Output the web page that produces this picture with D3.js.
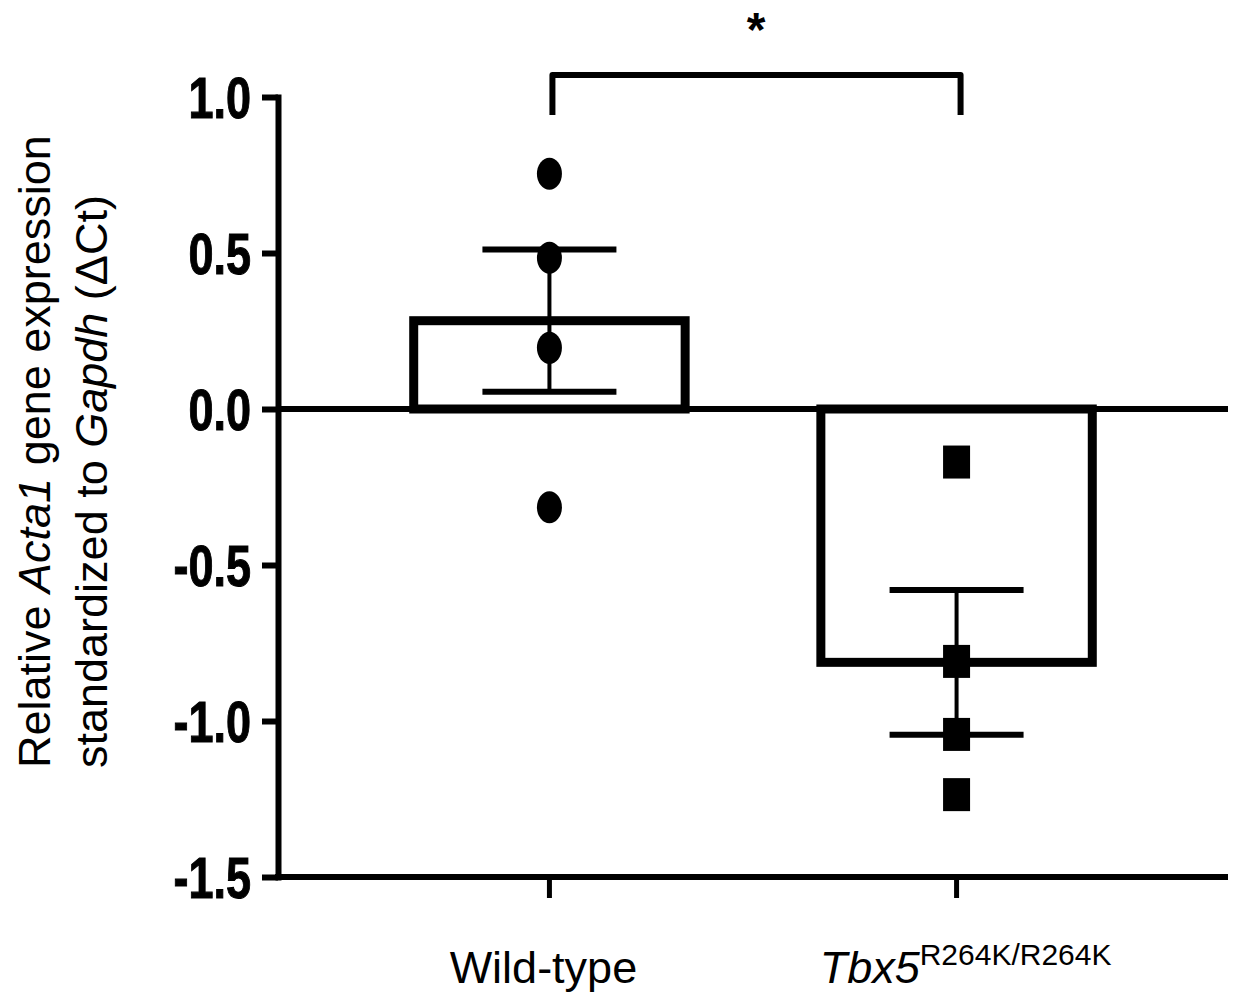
<!DOCTYPE html>
<html>
<head>
<meta charset="utf-8">
<script src="https://cdn.jsdelivr.net/npm/d3@7"></script>
<style>
  html, body { margin: 0; padding: 0; background: #fff; }
  svg { display: block; }
  text { font-family: "Liberation Sans", Arial, sans-serif; fill: #000; }
</style>
</head>
<body>
<svg id="chart" width="1234" height="995"></svg>
<script>
// ---- data ----
const categories = ["Wild-type", "Tbx5"];
const means = [0.283, -0.812];
const sems = [0.228, 0.232];
const wildTypePoints = [0.754, 0.485, 0.196, -0.315];
const mutantPoints = [-0.170, -0.809, -1.043, -1.236];
const yTickValues = [1.0, 0.5, 0.0, -0.5, -1.0, -1.5];
const yTickLabels = ["1.0", "0.5", "0.0", "-0.5", "-1.0", "-1.5"];
const significance = "*";

// ---- layout ----
const svg = d3.select("#chart");
const plotLeft = 278, plotRight = 1228, plotTop = 97, plotBottom = 877;

const y = d3.scaleLinear().domain([-1.5, 1.0]).range([plotBottom, plotTop]);
const x = d3.scaleBand().domain(categories).range([plotLeft, plotRight])
  .paddingInner(1 / 3).paddingOuter(1 / 3);
const cx = d => x(d) + x.bandwidth() / 2;

// y axis
const yAxis = svg.append("g").attr("transform", `translate(${plotLeft},0)`)
  .call(d3.axisLeft(y).tickValues(yTickValues).tickSize(16).tickSizeOuter(0)
    .tickPadding(11).tickFormat((d, i) => yTickLabels[i]));
yAxis.select(".domain").attr("stroke", "#000").attr("stroke-width", 6)
  .attr("stroke-linecap", "square");
yAxis.selectAll(".tick line").attr("stroke", "#000").attr("stroke-width", 6);
yAxis.selectAll(".tick text")
  .attr("font-size", 45).attr("font-weight", "bold")
  .attr("font-family", "'Liberation Sans', Arial, sans-serif")
  .attr("fill", "#000")
  .attr("stroke", "#000").attr("stroke-width", 0.8)
  .attr("dy", "0.36em")
  .attr("transform", "scale(1,1.27)");

// x axis (bottom)
const xAxis = svg.append("g").attr("transform", `translate(0,${plotBottom})`)
  .call(d3.axisBottom(x).tickSize(21).tickSizeOuter(0).tickFormat(""));
xAxis.select(".domain").attr("stroke", "#000").attr("stroke-width", 6)
  .attr("d", `M${plotLeft - 3},0H${plotRight}`);
xAxis.selectAll(".tick line").attr("stroke", "#000").attr("stroke-width", 5);

// zero line
svg.append("line")
  .attr("x1", plotLeft).attr("x2", plotRight)
  .attr("y1", y(0)).attr("y2", y(0))
  .attr("stroke", "#000").attr("stroke-width", 6);

// bars
svg.selectAll("rect.bar").data(categories).enter().append("rect")
  .attr("class", "bar")
  .attr("x", d => x(d))
  .attr("width", x.bandwidth())
  .attr("y", (d, i) => Math.min(y(0), y(means[i])))
  .attr("height", (d, i) => Math.abs(y(0) - y(means[i])))
  .attr("fill", "none").attr("stroke", "#000").attr("stroke-width", 9);

// error bars
const capHalf = 67;
categories.forEach((c, i) => {
  const g = svg.append("g");
  g.append("line").attr("x1", cx(c)).attr("x2", cx(c))
    .attr("y1", y(means[i] + sems[i])).attr("y2", y(means[i] - sems[i]))
    .attr("stroke", "#000").attr("stroke-width", 4);
  [means[i] + sems[i], means[i] - sems[i]].forEach(v => {
    g.append("line").attr("x1", cx(c) - capHalf).attr("x2", cx(c) + capHalf)
      .attr("y1", y(v)).attr("y2", y(v))
      .attr("stroke", "#000").attr("stroke-width", 6);
  });
});

// points
svg.selectAll("ellipse.wt").data(wildTypePoints).enter().append("ellipse")
  .attr("class", "wt")
  .attr("cx", cx(categories[0])).attr("cy", d => y(d))
  .attr("rx", 12.5).attr("ry", 16).attr("fill", "#000");
svg.selectAll("rect.mut").data(mutantPoints).enter().append("rect")
  .attr("class", "mut")
  .attr("x", cx(categories[1]) - 13.5).attr("y", d => y(d) - 16.5)
  .attr("width", 27).attr("height", 33).attr("fill", "#000");

// significance bracket
const bTop = 75, bEnd = 115;
svg.append("path")
  .attr("d", `M${cx(categories[0]) + 3},${bEnd}V${bTop}H${cx(categories[1]) + 4}V${bEnd}`)
  .attr("fill", "none").attr("stroke", "#000").attr("stroke-width", 6)
  .attr("stroke-linejoin", "round");
svg.append("text")
  .attr("x", (cx(categories[0]) + cx(categories[1])) / 2 + 3).attr("y", 46)
  .attr("text-anchor", "middle").attr("font-size", 48).attr("font-weight", "bold")
  .text(significance);

// category labels
svg.append("text").attr("x", cx(categories[0]) - 6).attr("y", 983)
  .attr("text-anchor", "middle").attr("font-size", 45).text(categories[0]);
const t2 = svg.append("text").attr("x", cx(categories[1]) + 9).attr("y", 983)
  .attr("text-anchor", "middle").attr("font-size", 45);
t2.append("tspan").attr("font-style", "italic").text("Tbx5");
t2.append("tspan").attr("font-size", 30).attr("dy", -18).text("R264K/R264K");

// y-axis title
const yt = svg.append("text")
  .attr("transform", "translate(50,768) rotate(-90)")
  .attr("font-size", 45).attr("text-anchor", "start");
yt.append("tspan").text("Relative ");
yt.append("tspan").attr("font-style", "italic").text("Acta1");
yt.append("tspan").text(" gene expression");
const yt2 = svg.append("text")
  .attr("transform", "translate(107,768) rotate(-90)")
  .attr("font-size", 45).attr("text-anchor", "start");
yt2.append("tspan").text("standardized to ");
yt2.append("tspan").attr("font-style", "italic").text("Gapdh");
yt2.append("tspan").text(" (\u0394Ct)");
</script>
</body>
</html>
